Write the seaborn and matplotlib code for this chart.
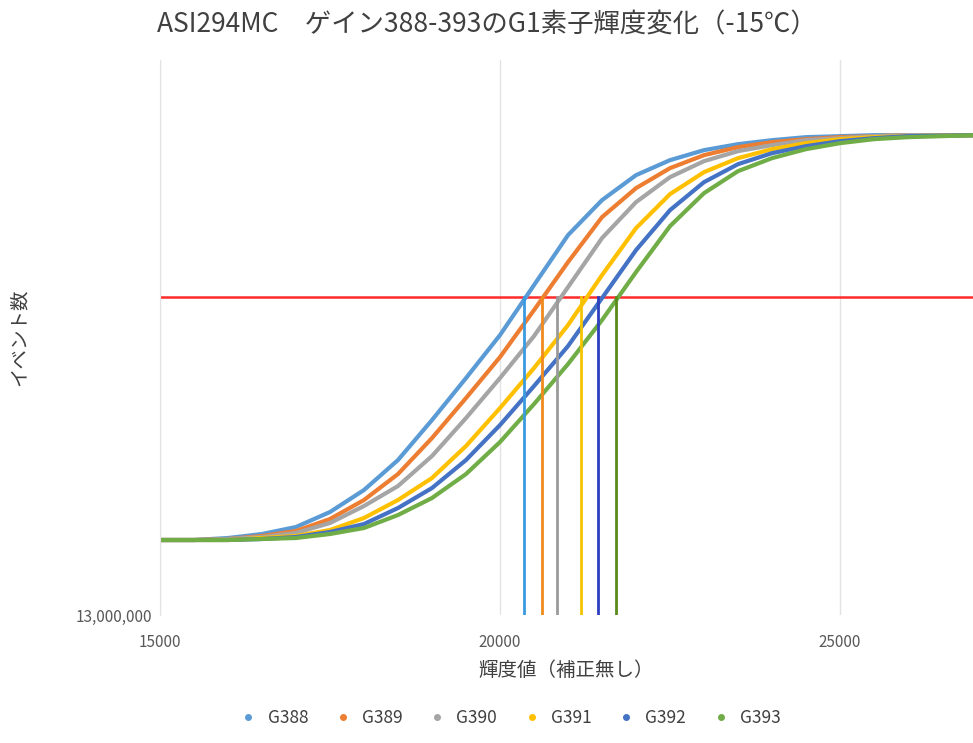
import seaborn as sns
import pandas as pd
import matplotlib.pyplot as plt
from matplotlib.lines import Line2D

plt.rcParams['font.family'] = ['Noto Sans CJK JP']

# 輝度値 grid
x_vals = [15000, 15500, 16000, 16500, 17000, 17500, 18000, 18500, 19000, 19500, 20000, 20500,
          21000, 21500, 22000, 22500, 23000, 23500, 24000, 24500, 25000, 25500, 26000, 27000]

# イベント数 (thousands)
g388 = [13150, 13150, 13154, 13162, 13176, 13206, 13250, 13310, 13390, 13474, 13560, 13660,
        13760, 13830, 13880, 13910, 13930, 13942, 13950, 13956, 13958, 13960, 13960, 13960]
g389 = [13150, 13150, 13152, 13158, 13168, 13192, 13230, 13282, 13354, 13434, 13516, 13610,
        13706, 13796, 13854, 13894, 13920, 13936, 13946, 13952, 13956, 13958, 13960, 13960]
g390 = [13150, 13150, 13152, 13156, 13164, 13184, 13218, 13258, 13318, 13394, 13474, 13558,
        13656, 13754, 13826, 13876, 13908, 13928, 13940, 13950, 13954, 13958, 13960, 13960]
g391 = [13150, 13150, 13150, 13154, 13158, 13170, 13194, 13230, 13274, 13338, 13414, 13494,
        13580, 13680, 13774, 13842, 13886, 13914, 13932, 13944, 13952, 13956, 13958, 13960]
g392 = [13150, 13150, 13150, 13152, 13156, 13166, 13182, 13214, 13254, 13310, 13380, 13458,
        13538, 13634, 13730, 13810, 13866, 13902, 13924, 13938, 13948, 13954, 13958, 13960]
g393 = [13150, 13150, 13150, 13152, 13154, 13162, 13174, 13200, 13234, 13282, 13346, 13422,
        13502, 13590, 13686, 13778, 13844, 13888, 13914, 13932, 13944, 13952, 13956, 13960]

names = ['G388', 'G389', 'G390', 'G391', 'G392', 'G393']
series = [g388, g389, g390, g391, g392, g393]
crossings = [20353, 20618, 20838, 21191, 21441, 21706]
threshold = 13636000

colors = ['#5B9BD5', '#ED7D31', '#A5A5A5', '#FFC000', '#4472C4', '#70AD47']
vcolors = ['#3A9AE0', '#F08A1C', '#9A9A9A', '#F5C400', '#2B3FC0', '#5A8A1A']

rows = []
for n, s in zip(names, series):
    for xv, yv in zip(x_vals, s):
        rows.append({'x': xv, 'y': yv * 1000, 'series': n})
df = pd.DataFrame(rows)

fig = plt.figure(figsize=(9.73, 7.43), dpi=100)
ax = fig.add_axes([0.1644, 0.1723, 0.8356, 0.7467])
sns.lineplot(data=df, x='x', y='y', hue='series', palette=colors, linewidth=3,
             legend=False, ax=ax)

ax.axhline(threshold, color='#FF2A2A', linewidth=1.8, zorder=1)
for cx, c in zip(crossings, vcolors):
    ax.plot([cx, cx], [13000000, threshold], color=c, linewidth=2)

ax.set_xlim(15000, 26955)
ax.set_ylim(13000000, 14110000)
ax.set_xticks([15000, 20000, 25000])
ax.set_yticks([13000000])
ax.set_yticklabels(['13,000,000'])
ax.tick_params(length=0, labelsize=11, colors='#595959')
ax.tick_params(axis='x', pad=14)
ax.tick_params(axis='y', pad=6)
ax.grid(axis='x', color='#E3E3E3', linewidth=1)
ax.set_axisbelow(True)
for sp in ['top', 'right', 'bottom']:
    ax.spines[sp].set_visible(False)
ax.spines['left'].set_color('#E3E3E3')

ax.set_xlabel('輝度値（補正無し）', fontsize=14, color='#404040', labelpad=6)
ax.set_ylabel('イベント数', fontsize=14, color='#404040')
ax.yaxis.set_label_coords(-0.16, 0.5)
fig.suptitle('ASI294MC　ゲイン388-393のG1素子輝度変化（-15℃）', fontsize=19,
             color='#404040', y=0.985)

handles = [Line2D([], [], marker='o', linestyle='', color=c, markersize=4) for c in colors]
fig.legend(handles, names, loc='lower center', ncol=6, frameon=False, fontsize=12.5,
           bbox_to_anchor=(0.52, 0.0), handletextpad=0.1, columnspacing=1.0,
           labelcolor='#404040')

fig.savefig('out.png')
